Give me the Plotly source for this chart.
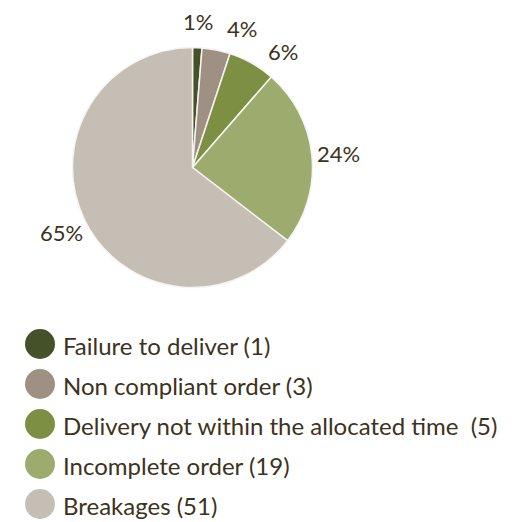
import math
import plotly.graph_objects as go

categories = ["Failure to deliver", "Non compliant order",
              "Delivery not within the allocated time\u00a0", "Incomplete order", "Breakages"]
counts = [1, 3, 5, 19, 51]
colors = ["#455129", "#9e9082", "#7d8f42", "#9eab6e", "#c5beb5"]

W, H = 514, 522
PAGE_OFF = 8  # default body margin of the page around the figure
TEXT = "#3d3220"
FONT = "Lato"


def px(sx):  # screen pixel -> paper x
    return (sx - PAGE_OFF) / W


def py(sy):  # screen pixel -> paper y
    return 1 - (sy - PAGE_OFF) / H


# pie geometry (screen pixels)
CX, CY, R = 192.5, 167.5, 120

fig = go.Figure()
fig.add_trace(go.Pie(
    labels=categories, values=counts, sort=False, direction="clockwise", rotation=0,
    marker=dict(colors=colors, line=dict(color="#f6f4f0", width=1.5)),
    textinfo="none",
    domain=dict(x=[px(CX - R), px(CX + R)], y=[py(CY + R), py(CY - R)]),
    showlegend=False, hoverinfo="label+value+percent",
))

# percentage labels outside the slices, at each slice's mid angle
total = sum(counts)
LBL_SIZE = 22
placed = []
annos = []
cum = 0
for n in counts:
    mid = 2 * math.pi * (cum + n / 2) / total
    cum += n
    txt = f"{round(100 * n / total)}%"
    w = len(txt) * 0.7 * LBL_SIZE
    h = 20
    d = R * 1.22
    x = CX + d * math.sin(mid)
    y = CY - d * math.cos(mid)
    # nudge clockwise along the tangent until it clears earlier labels
    for _ in range(80):
        if all(abs(x - a) >= (w + b) / 2 + 12 or abs(y - c) >= (h + e) / 2 + 2
               for a, c, b, e in placed):
            break
        x += 1.0 * math.cos(mid)
        y += 1.0 * math.sin(mid)
    placed.append((x, y, w, h))
    annos.append(dict(xref="paper", yref="paper", x=px(x), y=py(y), xanchor="center",
                      yanchor="middle", showarrow=False, text=txt, height=18,
                      font=dict(family=FONT, size=LBL_SIZE, color=TEXT)))

# legend with large round markers
shapes = []
for i, (cat, n, c) in enumerate(zip(categories, counts, colors)):
    cy = 344 + 40 * i
    shapes.append(dict(type="circle", xref="paper", yref="paper",
                       x0=px(25), x1=px(55), y0=py(cy + 15), y1=py(cy - 15),
                       fillcolor=c, line=dict(width=0)))
    annos.append(dict(xref="paper", yref="paper", x=px(61), y=py(cy + 1),
                      xanchor="left", yanchor="middle", showarrow=False,
                      text=f"{cat} ({n})", font=dict(family=FONT, size=24, color=TEXT)))

fig.update_layout(width=W, height=H,
                  margin=dict(l=0, r=0, t=0, b=0, autoexpand=False),
                  paper_bgcolor="white", plot_bgcolor="white",
                  shapes=shapes, annotations=annos)
fig.write_html("out.html")
